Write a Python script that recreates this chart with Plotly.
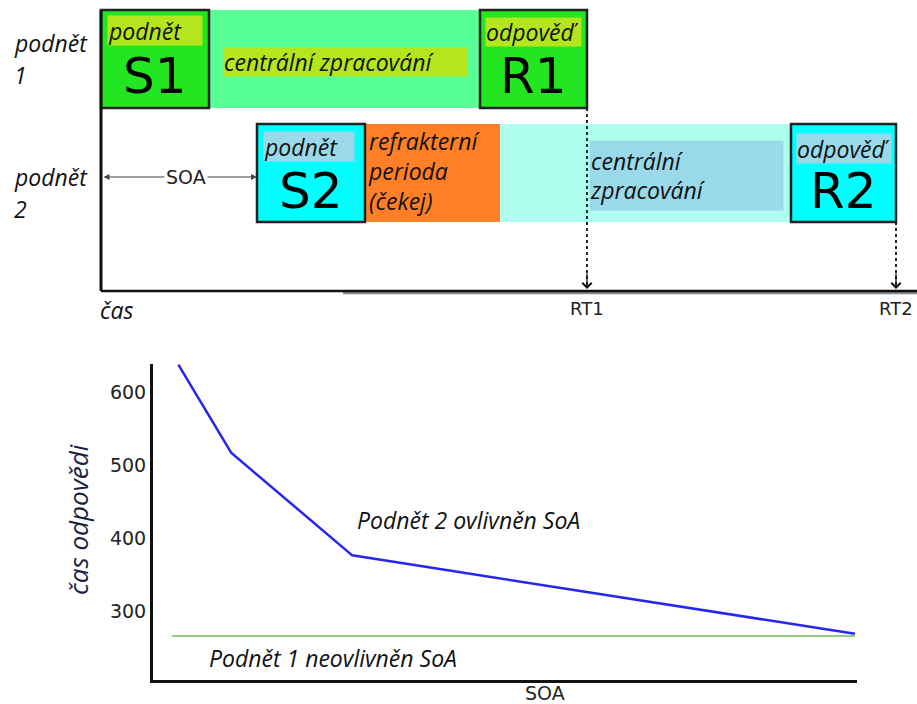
import plotly.graph_objects as go

# ---------------- data ----------------
# top diagram: stages on a time axis (arbitrary time units, S1 onset = 0)
row1_stages = ["S1", "central1", "R1"]
row1_start = [0, 108, 379]
row1_end = [108, 379, 486]

row2_stages = ["S2", "refractory", "central2", "R2"]
row2_start = [156, 264, 399, 690]
row2_end = [264, 399, 690, 795]

rt_labels = ["RT1", "RT2"]
rt_times = [486, 795]

# bottom chart: response time vs SOA
soa_task2 = [3.6, 11.1, 28.3, 99.7]
rt_task2 = [637, 517, 377, 270]
soa_task1 = [2.7, 99.7]
rt_task1 = [267, 267]
y_ticks = [300, 400, 500, 600]

# ---------------- styles ----------------
GREEN = "#22e622"
MINT = "#57ff96"
LIME = "#b5e61d"
CYAN = "#00ffff"
LCYAN = "#aefff0"
LBLUE = "#99d9ea"
ORANGE = "#ff7f27"
ITAL = "Open Sans"
BIG = "DejaVu Sans"
FS = 23

W, H = 917, 704
T0 = 101  # pixel of time 0

fig = go.Figure()

fig.add_trace(go.Scatter(x=[None], y=[None], xaxis="x", yaxis="y", showlegend=False))

fig.add_trace(go.Scatter(x=soa_task2, y=rt_task2, mode="lines",
                         line=dict(color="#2626f0", width=2.5),
                         xaxis="x2", yaxis="y2", showlegend=False))
fig.add_trace(go.Scatter(x=soa_task1, y=rt_task1, mode="lines",
                         line=dict(color="#6cbf5c", width=1.6),
                         xaxis="x2", yaxis="y2", showlegend=False))

shapes = []
ann = []

r1_top, r1_bot = 10, 108
r2_top, r2_bot = 124, 222

fills1 = {"S1": GREEN, "central1": MINT, "R1": GREEN}
fills2 = {"S2": CYAN, "refractory": ORANGE, "central2": LCYAN, "R2": CYAN}
boxed = {"S1", "R1", "S2", "R2"}


def add_rects(stages, starts, ends, fills, top, bot):
    for st, a, b in zip(stages, starts, ends):
        if st not in boxed:
            shapes.append(dict(type="rect", xref="x", yref="y", x0=a, x1=b, y0=top, y1=bot,
                               fillcolor=fills[st], line=dict(width=0), layer="above"))
    for st, a, b in zip(stages, starts, ends):
        if st in boxed:
            shapes.append(dict(type="rect", xref="x", yref="y", x0=a, x1=b, y0=top, y1=bot,
                               fillcolor=fills[st], line=dict(color="#222222", width=2.5),
                               layer="above"))


add_rects(row1_stages, row1_start, row1_end, fills1, r1_top, r1_bot)
add_rects(row2_stages, row2_start, row2_end, fills2, r2_top, r2_bot)

# axes of the top diagram
shapes.append(dict(type="line", xref="x", yref="y", x0=242, x1=W - T0, y0=293, y1=293,
                   line=dict(color="#888888", width=2.5), layer="above"))
shapes.append(dict(type="line", xref="x", yref="y", x0=0, x1=0, y0=r1_top, y1=291,
                   line=dict(color="#111111", width=3), layer="above"))
shapes.append(dict(type="line", xref="x", yref="y", x0=0, x1=W - T0, y0=291, y1=291,
                   line=dict(color="#111111", width=2.5), layer="above"))

# dotted RT lines
for t, bot in zip(rt_times, [r1_bot, r2_bot]):
    shapes.append(dict(type="line", xref="x", yref="y", x0=t, x1=t, y0=bot, y1=285,
                       line=dict(color="#111111", width=1.8, dash="dot"), layer="above"))
    ann.append(dict(xref="x", yref="y", axref="x", ayref="y", x=t, y=289, ax=t, ay=272,
                    text="", showarrow=True, arrowhead=4, arrowsize=1.4, arrowwidth=1.3,
                    arrowcolor="#111111"))
for lab, t in zip(rt_labels, rt_times):
    ann.append(dict(xref="x", yref="y", x=t, y=308, text=lab, showarrow=False,
                    font=dict(family=BIG, size=18, color="#222222")))


def label(x, y, text, bg, w, h, size=FS):
    ann.append(dict(xref="x", yref="y", x=x, y=y, text=text, showarrow=False,
                    xanchor="left", yanchor="top", align="left", valign="middle",
                    bgcolor=bg, width=w, height=h, borderpad=0,
                    font=dict(family=ITAL, size=size, color="#111111")))


def it(t):
    return "<i>" + t + "</i>"


# box inner labels
label(row1_start[0] + 6, 15, it("podnět"), LIME, 94, 29)
label(row1_start[2] + 5, 17, it("odpověď"), LIME, 95, 28)
label(row2_start[0] + 6, 131, it("podnět"), LBLUE, 90, 29)
label(row2_start[3] + 5, 133, it("odpověď"), LBLUE, 94, 29)
label(row1_start[1] + 14, 47, it("centrální zpracování"), LIME, 243, 28)
label(row2_start[2] + 89, 140, it("centrální<br>zpracování"), LBLUE, 193, 69)
ann.append(dict(xref="x", yref="y", x=row2_start[1] + 1, y=171,
                text=it("refrakterní<br>perioda<br>(čekej)"), showarrow=False,
                xanchor="left", yanchor="middle", align="left",
                font=dict(family=ITAL, size=FS, color="#111111")))

# big stage letters
for st, a, b, y in [("S1", row1_start[0], row1_end[0], 76), ("R1", row1_start[2], row1_end[2], 76),
                    ("S2", row2_start[0], row2_end[0], 191), ("R2", row2_start[3], row2_end[3], 191)]:
    ann.append(dict(xref="x", yref="y", x=(a + b) / 2, y=y, text=st, showarrow=False,
                    font=dict(family=BIG, size=50, color="#000000")))

# row labels
for y, t in [(43, "podnět"), (75, "1"), (177, "podnět"), (209, "2")]:
    ann.append(dict(xref="paper", yref="y", x=12 / W, y=y, text=it(t), showarrow=False,
                    xanchor="left", font=dict(family=ITAL, size=FS, color="#111111")))
ann.append(dict(xref="x", yref="y", x=-3, y=310, text=it("čas"), showarrow=False,
                xanchor="left", font=dict(family=ITAL, size=FS, color="#111111")))

# SOA arrow
ann.append(dict(xref="x", yref="y", axref="x", ayref="y", x=row2_start[0], y=177, ax=1, ay=177,
                text="", showarrow=True, arrowhead=2, arrowside="end+start", arrowsize=1,
                arrowwidth=1.2, arrowcolor="#444444"))
ann.append(dict(xref="x", yref="y", x=85, y=177, text="SOA", showarrow=False, bgcolor="white",
                borderpad=1, font=dict(family=BIG, size=19, color="#222222")))

# bottom chart labels
def pann(x, y, text, font, **kw):
    ann.append(dict(xref="paper", yref="paper", x=x / W, y=1 - y / H, text=text,
                    xanchor="center", yanchor="middle", showarrow=False, font=font, **kw))


pann(78, 520, it("čas odpovědi"), dict(family=ITAL, size=26, color="#1a2240"), textangle=-90)
pann(545, 693, "SOA", dict(family=BIG, size=19, color="#222222"))
pann(468, 520, it("Podnět 2 ovlivněn SoA"), dict(family=ITAL, size=FS, color="#111111"))
pann(333, 658, it("Podnět 1 neovlivněn SoA"), dict(family=ITAL, size=FS, color="#111111"))

top_h = 340
fig.update_layout(
    width=W, height=H, margin=dict(l=0, r=0, t=0, b=0),
    paper_bgcolor="white", plot_bgcolor="white",
    shapes=shapes, annotations=ann,
    xaxis=dict(domain=[0, 1], range=[-T0, W - T0], visible=False, fixedrange=True),
    yaxis=dict(domain=[1 - top_h / H, 1], range=[top_h, 0], visible=False, fixedrange=True),
    xaxis2=dict(domain=[153 / W, 857 / W], range=[0, 100], anchor="y2", showline=True,
                linecolor="#111111", linewidth=3, showticklabels=False, showgrid=False,
                zeroline=False, ticks=""),
    yaxis2=dict(domain=[1 - 680 / H, 1 - 364 / H], range=[207, 638], anchor="x2", showline=True,
                linecolor="#111111", linewidth=3, tickvals=y_ticks, showgrid=False, zeroline=False,
                ticks="", ticklabelstandoff=0,
                tickfont=dict(family=BIG, size=19, color="#222222")),
)

fig.write_html("out.html", config={"displayModeBar": False},
               post_script="document.body.style.margin='0px';")
